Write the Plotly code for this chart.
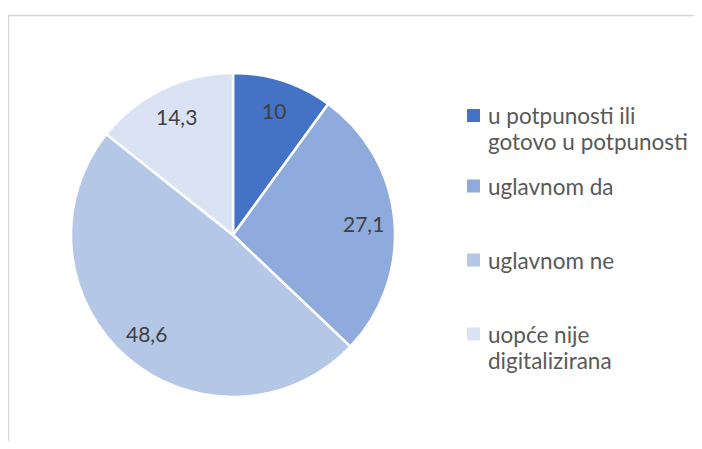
import math
import plotly.graph_objects as go

categories = ["u potpunosti ili<br>gotovo u potpunosti", "uglavnom da", "uglavnom ne", "uopće nije<br>digitalizirana"]
values = [10, 27.1, 48.6, 14.3]
colors = ["#4472C4", "#8FAADC", "#B4C7E7", "#DAE3F3"]

# page has an 8px body margin; figure sized to fit the 702x449 window
W, H = 686, 433
FONT = "Lato, Carlito, sans-serif"
labels_txt = [("%g" % v).replace(".", ",") for v in values]

cx, cy, r = 225, 227, 162
fig = go.Figure()
fig.add_trace(go.Pie(
    labels=categories, values=values,
    textinfo="none", sort=False, direction="clockwise", rotation=0,
    marker=dict(colors=colors, line=dict(color="white", width=2.5)),
    domain=dict(x=[(cx - r) / W, (cx + r) / W], y=[(H - cy - r) / H, (H - cy + r) / H]),
    showlegend=False, hoverinfo="label+value",
))

annotations = []
# data labels placed along each slice's mid-angle
total = sum(values)
cum = 0.0
LABEL_FRAC = 0.81
for v, t in zip(values, labels_txt):
    mid = (cum + v / 2) / total * 2 * math.pi
    cum += v
    px = cx + LABEL_FRAC * r * math.sin(mid)
    py = cy - LABEL_FRAC * r * math.cos(mid)
    annotations.append(dict(xref="paper", yref="paper", x=px / W, y=(H - py) / H,
                            xanchor="center", yanchor="middle", showarrow=False, text=t,
                            font=dict(family=FONT, size=21, color="#404040")))

shapes = [dict(type="rect", xref="paper", yref="paper",
               x0=0.5 / W, x1=1.05, y0=-0.05, y1=(H - 7.5) / H,
               line=dict(color="#D9D9D9", width=1.5), fillcolor="rgba(0,0,0,0)")]
item_tops = [107.5, 178, 252, 326]
LINE_GAP = 26
SQ = 13
for c, col, top in zip(categories, colors, item_tops):
    shapes.append(dict(type="rect", xref="paper", yref="paper",
                       x0=459 / W, x1=(459 + SQ) / W, y0=(H - top - SQ / 2) / H, y1=(H - top + SQ / 2) / H,
                       line=dict(width=0), fillcolor=col))
    for i, line in enumerate(c.split("<br>")):
        yc = top + i * LINE_GAP
        annotations.append(dict(xref="paper", yref="paper", x=478 / W, y=(H - yc) / H,
                                xanchor="left", yanchor="middle", align="left", showarrow=False,
                                text=line, font=dict(family=FONT, size=22.5, color="#595959")))

fig.update_layout(width=W, height=H, margin=dict(l=0, r=0, t=0, b=0),
                  paper_bgcolor="white", plot_bgcolor="white",
                  shapes=shapes, annotations=annotations)
fig.write_html("out.html")
